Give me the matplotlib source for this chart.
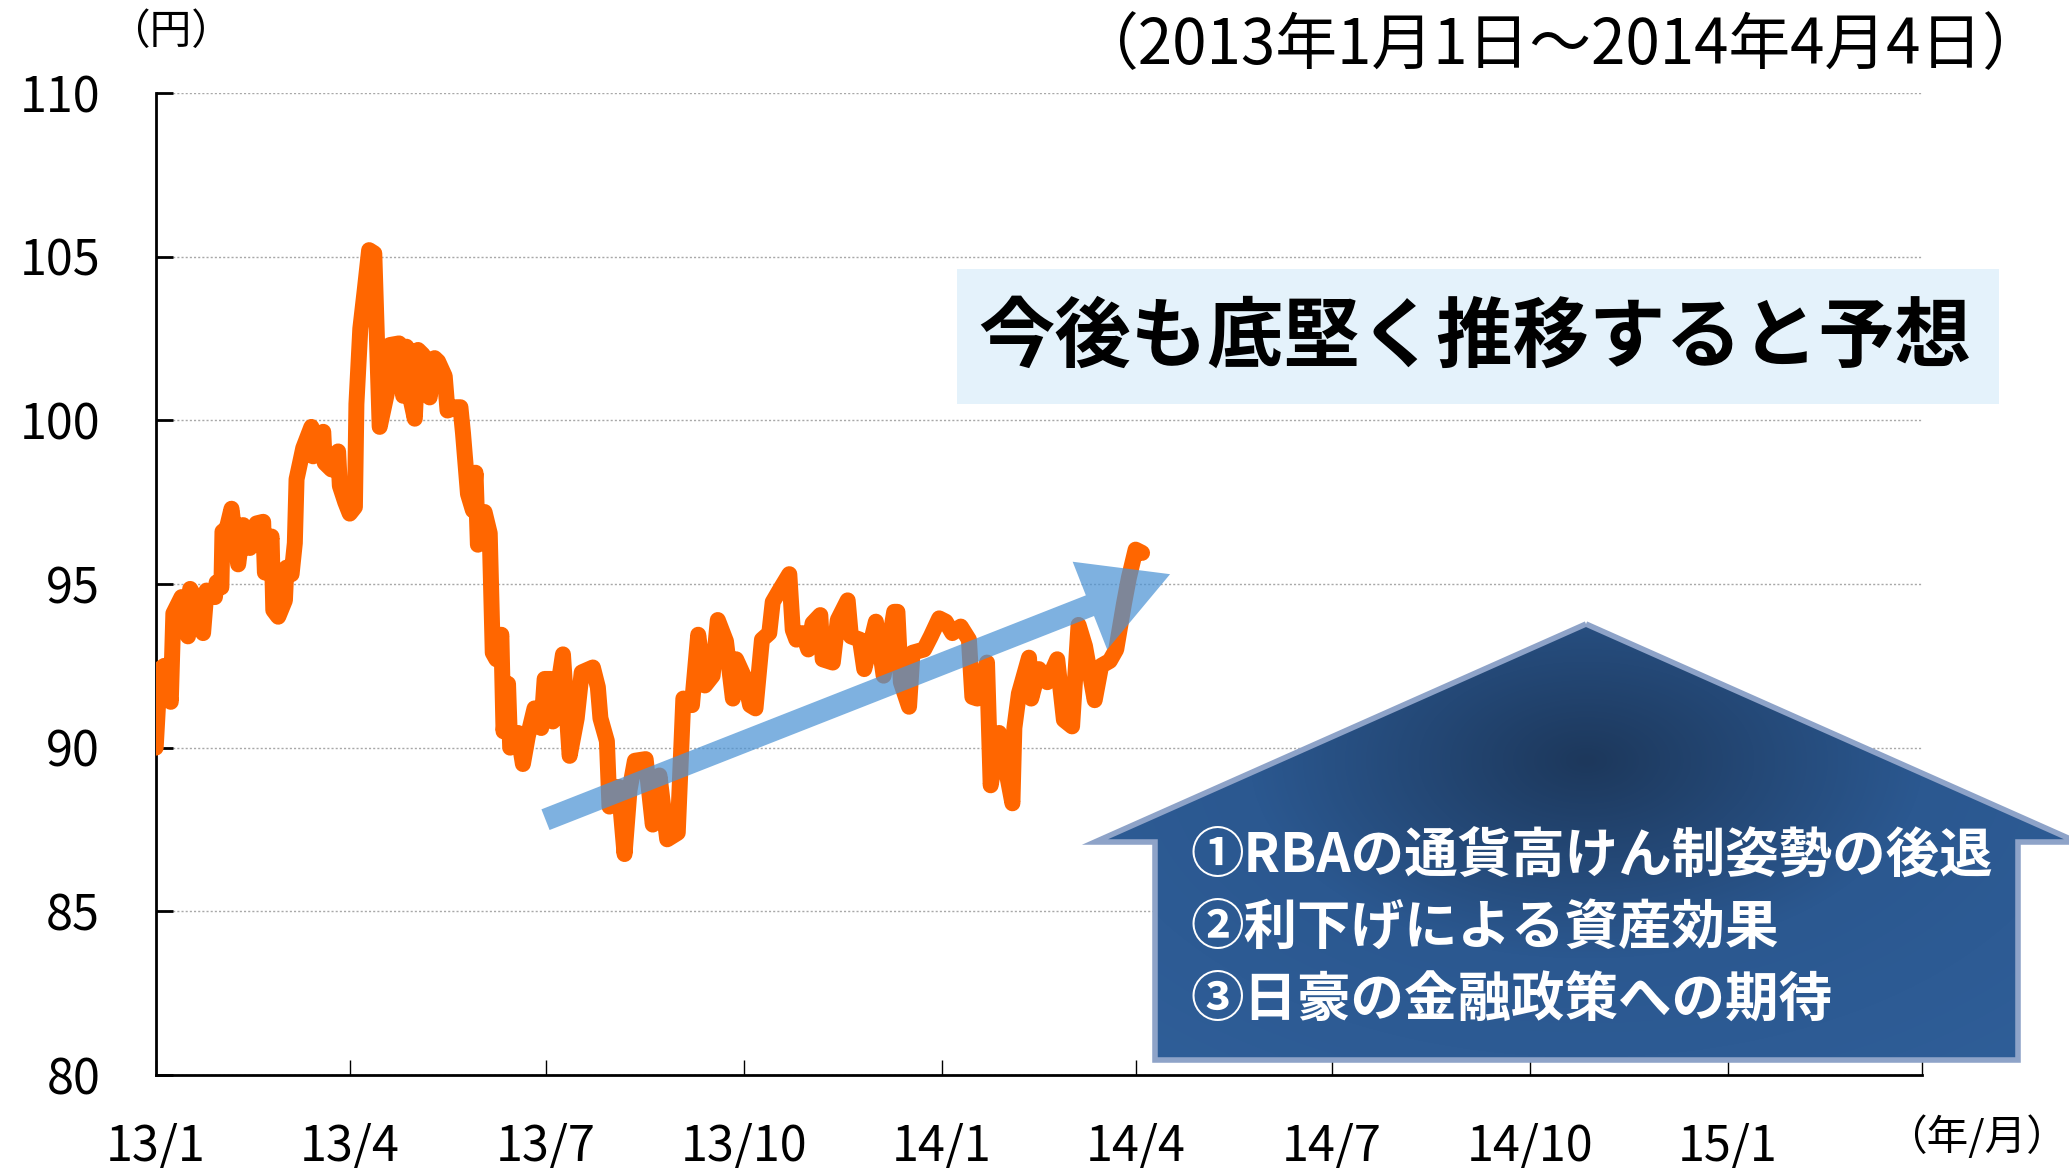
import numpy as np
import pandas as pd
import matplotlib
matplotlib.use('Agg')
import matplotlib.pyplot as plt
import matplotlib.dates as mdates
from matplotlib.patches import Polygon, Rectangle, FancyArrowPatch, ArrowStyle
from matplotlib.colors import LinearSegmentedColormap

plt.rcParams['font.family'] = ['Noto Sans CJK JP', 'DejaVu Sans']

# AUD/JPY (days counted from 2013-01-01)
start = pd.Timestamp('2013-01-01')
day_offset = [0, 2, 4, 7, 8.2, 12, 15, 16, 19, 22, 23.6, 27.5, 28.3, 30.5, 31, 33, 35.2, 38.3,
              40.6, 43.7, 46.8, 49.9, 50.7, 53.8, 54.6, 56.9, 60, 60.7, 63.1, 64.6, 65.4, 68.5,
              72.3, 73.1, 77.8, 78.5, 81.6, 84.7, 85.5, 88, 90.1, 92.5, 93.2, 95, 97.1, 99.1,
              101.5, 104, 107.9, 108.7, 113, 114.9, 116.4, 118, 120.3, 121.8, 124.1, 127.2,
              129.5, 131.1, 134.2, 135.5, 139.6, 141.5, 142.7, 145, 147.3, 148.5, 149.6, 152.7,
              155.1, 156.5, 158.2, 160.5, 161.5, 163.6, 164.6, 168.2, 170.5, 172.8, 175.9, 179,
              180.6, 183.5, 184.4, 189.1, 192.2, 195.5, 197.8, 203, 205.3, 206.5, 209.5, 210.7,
              215, 217.7, 220, 222.5, 227.5, 230.8, 233.9, 237.5, 242.4, 245, 249, 251.9, 255,
              258.6, 261, 264.8, 268, 269.5, 273.3, 276, 278.5, 281.5, 284.9, 286.5, 289.6,
              294.2, 295.8, 297.5, 300.4, 303, 305, 308.6, 309.7, 314.4, 316.7, 321.3, 322.8,
              327, 329, 334.4, 338, 342.9, 344.4, 346, 349.8, 351.4, 356.8, 359.9, 363.8, 366.8,
              369.9, 373.8, 377.6, 379.2, 381.5, 386, 387.7, 391.6, 397.8, 398.7, 400.8, 405.5,
              406.5, 410.1, 414, 418.6, 421.7, 425.5, 428.5, 431.5, 436, 439, 443, 446, 449.6,
              451.9, 455, 458]
aud_jpy = [90.0, 92.4, 92.5, 91.4, 94.1, 94.6, 93.4, 94.85, 94.5, 93.5, 94.8, 94.6, 95.05, 94.9,
           96.6, 96.7, 97.3, 95.6, 96.8, 96.1, 96.85, 96.9, 95.35, 96.45, 94.2, 94.0, 94.5, 95.5,
           95.3, 96.25, 98.2, 99.15, 99.8, 98.9, 99.65, 98.7, 98.5, 99.05, 98.0, 97.5, 97.15,
           97.35, 100.5, 102.8, 104.0, 105.2, 105.1, 99.8, 101.0, 102.3, 102.35, 100.75, 102.25,
           100.75, 100.05, 102.15, 102.0, 100.7, 101.9, 101.8, 101.35, 100.3, 100.4, 100.4, 99.6,
           97.75, 97.25, 98.4, 96.2, 97.2, 96.55, 92.9, 92.7, 93.45, 90.5, 91.95, 90.0, 90.45,
           89.5, 90.35, 91.2, 90.6, 92.1, 92.1, 90.8, 92.85, 89.75, 90.9, 92.3, 92.45, 91.85,
           90.9, 90.2, 88.2, 88.8, 86.75, 88.7, 89.6, 89.65, 87.65, 89.15, 87.2, 87.4, 91.5,
           91.3, 93.45, 91.9, 92.2, 93.9, 93.25, 91.5, 92.7, 92.15, 91.3, 91.2, 93.3, 93.5,
           94.45, 94.8, 95.3, 93.6, 93.3, 93.5, 93.0, 93.8, 94.05, 92.7, 92.6, 93.9, 94.5, 93.4,
           93.3, 92.4, 93.85, 92.2, 94.15, 94.15, 92.0, 91.25, 92.9, 93.0, 93.4, 93.95, 93.85,
           93.5, 93.7, 93.3, 91.55, 91.5, 92.6, 88.85, 90.45, 88.3, 90.6, 91.65, 92.75, 91.5,
           92.4, 92.0, 92.7, 90.85, 90.65, 93.75, 93.1, 91.45, 92.5, 92.65, 93.0, 94.4, 95.2,
           96.05, 95.95]

tick_dates = ['2013-01-01', '2013-04-01', '2013-07-01', '2013-10-01', '2014-01-01',
              '2014-04-01', '2014-07-01', '2014-10-01', '2015-01-01', '2015-04-01']
tick_labels = ['13/1', '13/4', '13/7', '13/10', '14/1', '14/4', '14/7', '14/10', '15/1', '']
y_ticks = [80, 85, 90, 95, 100, 105, 110]

period_text = '（2013年1月1日～2014年4月4日）'
forecast_text = '今後も底堅く推移すると予想'
reasons = ['①RBAの通貨高けん制姿勢の後退', '②利下げによる資産効果', '③日豪の金融政策への期待']
trend_from = ('2013-07-01', 87.8)
trend_to = ('2014-04-17', 95.3)

W, H = 2069, 1168
fig = plt.figure(figsize=(W / 100, H / 100), dpi=100)
ax = fig.add_axes([155.7 / W, 1 - 1075 / H, 1766 / W, 982 / H])

dates = start + pd.to_timedelta(day_offset, unit='D')
ax.plot(dates, aud_jpy, color='#FF6600', lw=11.5, solid_joinstyle='round',
        solid_capstyle='round', zorder=3)

ax.set_xlim(pd.Timestamp(tick_dates[0]), pd.Timestamp(tick_dates[-1]))
ax.set_ylim(80, 110)
ax.set_xticks(pd.to_datetime(tick_dates))
ax.set_xticklabels(tick_labels)
ax.set_yticks(y_ticks)
ax.yaxis.grid(True, linestyle=(0, (1.5, 1.5)), color='#A8A8A8', lw=1)
ax.set_axisbelow(True)
for s in ['top', 'right']:
    ax.spines[s].set_visible(False)
for s in ['left', 'bottom']:
    ax.spines[s].set_linewidth(2)
ax.tick_params(axis='y', direction='in', length=12, width=2, pad=40, labelsize=35)
ax.tick_params(axis='x', direction='in', length=11, width=1, pad=34, labelsize=35)

# trend arrow
arr = FancyArrowPatch(
    posA=(mdates.date2num(pd.Timestamp(trend_from[0])), trend_from[1]),
    posB=(mdates.date2num(pd.Timestamp(trend_to[0])), trend_to[1]),
    arrowstyle=ArrowStyle.Simple(head_length=62, head_width=68, tail_width=16),
    mutation_scale=1, shrinkA=0, shrinkB=0, color='#4C93D4', alpha=0.72, lw=0, zorder=4)
ax.add_patch(arr)

# overlay in pixel coordinates
ov = fig.add_axes([0, 0, 1, 1])
ov.axis('off')

ov.add_patch(Rectangle((957, 269), 1042, 135, color='#E4F2FB', lw=0))
ov.text(1475, 338, forecast_text, fontsize=55, fontweight='bold', color='black',
        ha='center', va='center')

house = [(1586, 624), (2077, 842), (2018, 842), (2018, 1060), (1155, 1060),
         (1155, 842), (1095, 842)]
poly = Polygon(house, closed=True, facecolor='none', edgecolor='#8EA3C8', lw=4, zorder=3)
ov.add_patch(poly)
yy, xx = np.mgrid[600:1070, 1090:2069]
r = np.hypot((xx - 1586) / 560.0, (yy - 760) / 330.0)
cmap = LinearSegmentedColormap.from_list('house', ['#1D385C', '#2B5890', '#2F5E98'])
im = ov.imshow(r, extent=[1090, 2069, 1070, 600], cmap=cmap, vmin=0, vmax=1.2,
               aspect='auto', zorder=2)
clip = Polygon(house, closed=True, transform=ov.transData)
im.set_clip_path(clip)

for i, line in enumerate(reasons):
    ov.text(1190, 857 + i * 72, line, fontsize=38.5, fontweight='bold', color='white',
            ha='left', va='center', zorder=4)

ov.text(1560, 46, period_text, fontsize=44.5, color='black', ha='center', va='center')
ov.text(170, 33, '（円）', fontsize=30, color='black', ha='center', va='center')
ov.text(2068, 1137, '（年/月）', fontsize=30, color='black', ha='right', va='center')

ov.set_xlim(0, W)
ov.set_ylim(H, 0)

fig.savefig('out.png', dpi=100)
